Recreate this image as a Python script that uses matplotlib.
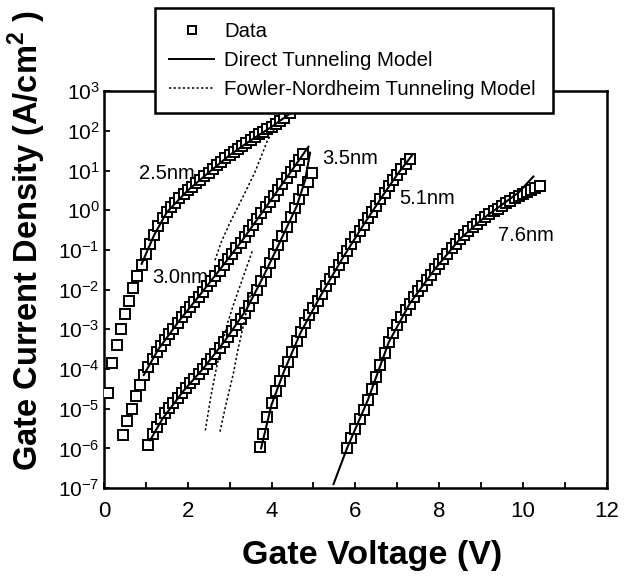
import numpy as np
import matplotlib
matplotlib.use('Agg')
import matplotlib.pyplot as plt
from matplotlib.lines import Line2D
from matplotlib.ticker import MultipleLocator, LogLocator, NullLocator

plt.rcParams['font.family'] = ['Liberation Sans', 'DejaVu Sans']
plt.rcParams['mathtext.fontset'] = 'custom'
plt.rcParams['mathtext.rm'] = 'Liberation Sans'
plt.rcParams['mathtext.bf'] = 'Liberation Sans:bold'

# measured data, log10(J) vs gate voltage
v_25 = [0.1, 0.2, 0.3, 0.4, 0.5, 0.6, 0.7, 0.8, 0.9, 1.0, 1.1, 1.2, 1.3, 1.4, 1.5,
        1.6, 1.7, 1.8, 1.9, 2.0, 2.1, 2.2, 2.3, 2.4, 2.5, 2.6, 2.7, 2.8, 2.9, 3.0,
        3.1, 3.2, 3.3, 3.4, 3.5, 3.6, 3.7, 3.8, 3.9, 4.0, 4.1, 4.2, 4.3, 4.44]
logj_25 = [-4.6, -3.85, -3.4, -3.0, -2.62, -2.28, -1.95, -1.65, -1.38, -1.1, -0.85,
           -0.62, -0.4, -0.2, -0.04, 0.08, 0.19, 0.3, 0.4, 0.5, 0.59, 0.68, 0.77,
           0.86, 0.95, 1.04, 1.13, 1.22, 1.31, 1.39, 1.47, 1.55, 1.62, 1.69, 1.77,
           1.84, 1.91, 1.98, 2.04, 2.1, 2.17, 2.25, 2.33, 2.44]

v_30 = [0.46, 0.56, 0.66, 0.76, 0.86, 0.96, 1.06, 1.16, 1.26, 1.36, 1.46, 1.56, 1.66,
        1.76, 1.86, 1.96, 2.06, 2.16, 2.26, 2.36, 2.46, 2.56, 2.66, 2.76, 2.86, 2.96,
        3.06, 3.16, 3.26, 3.36, 3.46, 3.56, 3.66, 3.76, 3.86, 3.96, 4.06, 4.16, 4.26,
        4.36, 4.46, 4.56, 4.66, 4.76]
logj_30 = [-5.67, -5.3, -5.0, -4.68, -4.4, -4.15, -3.94, -3.76, -3.58, -3.41, -3.26,
           -3.12, -2.98, -2.84, -2.7, -2.57, -2.44, -2.31, -2.18, -2.05, -1.92, -1.79,
           -1.66, -1.52, -1.38, -1.24, -1.1, -0.96, -0.82, -0.67, -0.53, -0.38, -0.23,
           -0.08, 0.07, 0.22, 0.37, 0.52, 0.67, 0.82, 0.97, 1.12, 1.27, 1.42]

v_35 = [1.06, 1.16, 1.26, 1.36, 1.46, 1.56, 1.66, 1.76, 1.86, 1.96, 2.06, 2.16, 2.26,
        2.36, 2.46, 2.56, 2.66, 2.76, 2.86, 2.96, 3.06, 3.16, 3.26, 3.36, 3.46, 3.56,
        3.66, 3.76, 3.86, 3.96, 4.06, 4.16, 4.26, 4.36, 4.46, 4.56, 4.66, 4.76, 4.86,
        4.96]
logj_35 = [-5.92, -5.65, -5.45, -5.27, -5.12, -4.98, -4.85, -4.72, -4.6, -4.48, -4.36,
           -4.24, -4.12, -4.0, -3.88, -3.75, -3.61, -3.47, -3.33, -3.19, -3.05, -2.9,
           -2.75, -2.58, -2.4, -2.2, -2.0, -1.78, -1.56, -1.33, -1.1, -0.87, -0.64,
           -0.41, -0.18, 0.05, 0.28, 0.5, 0.72, 0.95]

v_51 = [3.72, 3.8, 3.9, 4.0, 4.1, 4.2, 4.3, 4.4, 4.5, 4.6, 4.7, 4.8, 4.9, 5.0, 5.1,
        5.2, 5.3, 5.4, 5.5, 5.6, 5.7, 5.8, 5.9, 6.0, 6.1, 6.2, 6.3, 6.4, 6.5, 6.6,
        6.7, 6.8, 6.9, 7.0, 7.1, 7.2, 7.3]
logj_51 = [-5.97, -5.65, -5.2, -4.85, -4.55, -4.3, -4.05, -3.82, -3.58, -3.3, -3.07,
           -2.85, -2.65, -2.46, -2.28, -2.1, -1.92, -1.74, -1.56, -1.38, -1.2, -1.02,
           -0.85, -0.68, -0.52, -0.36, -0.2, -0.04, 0.12, 0.28, 0.44, 0.6, 0.76, 0.9,
           1.04, 1.17, 1.3]

v_76 = [5.8, 5.9, 6.0, 6.1, 6.2, 6.3, 6.4, 6.5, 6.6, 6.7, 6.8, 6.9, 7.0, 7.1, 7.2,
        7.3, 7.4, 7.5, 7.6, 7.7, 7.8, 7.9, 8.0, 8.1, 8.2, 8.3, 8.4, 8.5, 8.6, 8.7,
        8.8, 8.9, 9.0, 9.1, 9.2, 9.3, 9.4, 9.5, 9.6, 9.7, 9.8, 9.9, 10.0, 10.1,
        10.2, 10.3, 10.4]
logj_76 = [-6.0, -5.75, -5.5, -5.27, -5.03, -4.78, -4.5, -4.2, -3.9, -3.6, -3.32,
           -3.1, -2.9, -2.7, -2.52, -2.35, -2.19, -2.04, -1.9, -1.76, -1.62, -1.48,
           -1.35, -1.22, -1.09, -0.96, -0.84, -0.72, -0.62, -0.52, -0.43, -0.34,
           -0.25, -0.17, -0.1, -0.03, 0.04, 0.11, 0.18, 0.24, 0.3, 0.36, 0.42, 0.47,
           0.52, 0.56, 0.6]

# direct tunneling model curves
dt_v_25 = [0.9, 1.2, 1.5, 2.0, 2.5, 3.0, 3.5, 4.0, 4.3, 4.5]
dt_j_25 = [-1.35, -0.62, -0.05, 0.5, 0.95, 1.39, 1.76, 2.1, 2.33, 2.48]
dt_v_30 = [0.95, 1.3, 1.8, 2.3, 2.8, 3.3, 3.8, 4.3, 4.6, 4.88]
dt_j_30 = [-4.15, -3.5, -2.78, -2.12, -1.45, -0.76, -0.02, 0.73, 1.18, 1.6]
dt_v_35 = [1.1, 1.4, 1.9, 2.4, 2.9, 3.4, 3.8, 4.2, 4.6, 4.8, 4.92]
dt_j_35 = [-5.8, -5.25, -4.55, -3.95, -3.27, -2.5, -1.68, -0.8, 0.1, 0.75, 1.45]
dt_v_51 = [3.75, 4.0, 4.3, 4.7, 5.2, 5.7, 6.2, 6.7, 7.0, 7.35]
dt_j_51 = [-6.0, -4.9, -4.05, -3.07, -2.1, -1.2, -0.36, 0.44, 0.9, 1.38]
dt_v_76 = [5.48, 5.8, 6.3, 6.8, 7.3, 7.9, 8.5, 9.0, 9.5, 9.9, 10.25]
dt_j_76 = [-6.9, -6.0, -4.78, -3.32, -2.35, -1.48, -0.72, -0.25, 0.14, 0.45, 0.85]

# fowler-nordheim model curves
fn_v_25 = [2.65, 2.8, 3.0, 3.3, 3.6, 3.9, 4.15, 4.4]
fn_j_25 = [-1.26, -0.8, -0.33, 0.3, 0.95, 1.75, 2.2, 2.42]
fn_v_30 = [2.42, 2.55, 2.67, 2.8, 2.95, 3.1, 3.25, 3.4, 3.55]
fn_j_30 = [-5.55, -4.7, -4.05, -3.45, -2.85, -2.35, -1.9, -1.45, -1.0]
fn_v_35 = [2.77, 2.9, 3.09, 3.2, 3.32, 3.45, 3.55]
fn_j_35 = [-5.58, -4.95, -4.11, -3.5, -2.94, -2.3, -1.95]

thickness = ['2.5nm', '3.0nm', '3.5nm', '5.1nm', '7.6nm']

fig = plt.figure(figsize=(6.3, 5.81), dpi=100)
ax = fig.add_axes([0.165, 0.160, 0.798, 0.683])

for v, lj in [(v_25, logj_25), (v_30, logj_30), (v_35, logj_35), (v_51, logj_51), (v_76, logj_76)]:
    ax.plot(v, 10 ** np.array(lj), ls='none', marker='s', ms=7.2, mfc='white',
            mec='black', mew=1.4, zorder=3)

for v, lj in [(dt_v_25, dt_j_25), (dt_v_30, dt_j_30), (dt_v_35, dt_j_35),
              (dt_v_51, dt_j_51), (dt_v_76, dt_j_76)]:
    ax.plot(v, 10 ** np.array(lj), color='black', lw=1.5, zorder=4)

for v, lj in [(fn_v_25, fn_j_25), (fn_v_30, fn_j_30), (fn_v_35, fn_j_35)]:
    ax.plot(v, 10 ** np.array(lj), color='black', lw=1.1, ls=(0, (1.5, 1.5)), zorder=4)

ax.set_yscale('log')
ax.set_xlim(0, 12)
ax.set_ylim(1e-7, 1e3)
ax.xaxis.set_major_locator(MultipleLocator(2))
ax.xaxis.set_minor_locator(MultipleLocator(1))
ax.yaxis.set_major_locator(LogLocator(base=10, numticks=20))
ax.yaxis.set_minor_locator(NullLocator())
ax.tick_params(axis='both', which='both', direction='in', width=1.3, top=False, right=False)
ax.tick_params(axis='x', which='both', length=4.5, labelsize=16, pad=9)
ax.tick_params(axis='y', which='major', length=4, labelsize=15, pad=3)
for s in ax.spines.values():
    s.set_linewidth(1.8)

# curve labels
ax.text(1.5, 10 ** 0.93, thickness[0], fontsize=14.5, ha='center', va='center')
ax.text(1.81, 10 ** -1.69, thickness[1], fontsize=14.5, ha='center', va='center')
ax.text(5.87, 10 ** 1.31, thickness[2], fontsize=14.5, ha='center', va='center')
ax.text(7.71, 10 ** 0.30, thickness[3], fontsize=14.5, ha='center', va='center')
ax.text(10.07, 10 ** -0.63, thickness[4], fontsize=14.5, ha='center', va='center')

fig.text(0.59, 0.044, 'Gate Voltage (V)', fontsize=24.5, fontweight='bold',
         ha='center', va='center')
fig.text(0.043, 0.585, 'Gate Current Density (A/cm$^{\\mathbf{2}}$ )', rotation=90,
         fontsize=23.5, fontweight='bold', ha='center', va='center')

handles = [Line2D([], [], ls='none', marker='s', ms=6, mfc='white', mec='black', mew=1.4),
           Line2D([], [], color='black', lw=1.4),
           Line2D([], [], color='black', lw=1.1, ls=(0, (1.5, 1.5)))]
labels = ['Data', 'Direct Tunneling Model', 'Fowler-Nordheim Tunneling Model']
leg = fig.legend(handles, labels, loc='upper left', bbox_to_anchor=(0.246, 0.814, 0.632, 0.172),
                 mode='expand', borderaxespad=0, fontsize=14.7, handlelength=2.2,
                 handletextpad=0.5, labelspacing=0.48, borderpad=0.7, fancybox=False,
                 framealpha=1, edgecolor='black')
leg.get_frame().set_linewidth(1.8)

fig.savefig('out.png', dpi=100)
